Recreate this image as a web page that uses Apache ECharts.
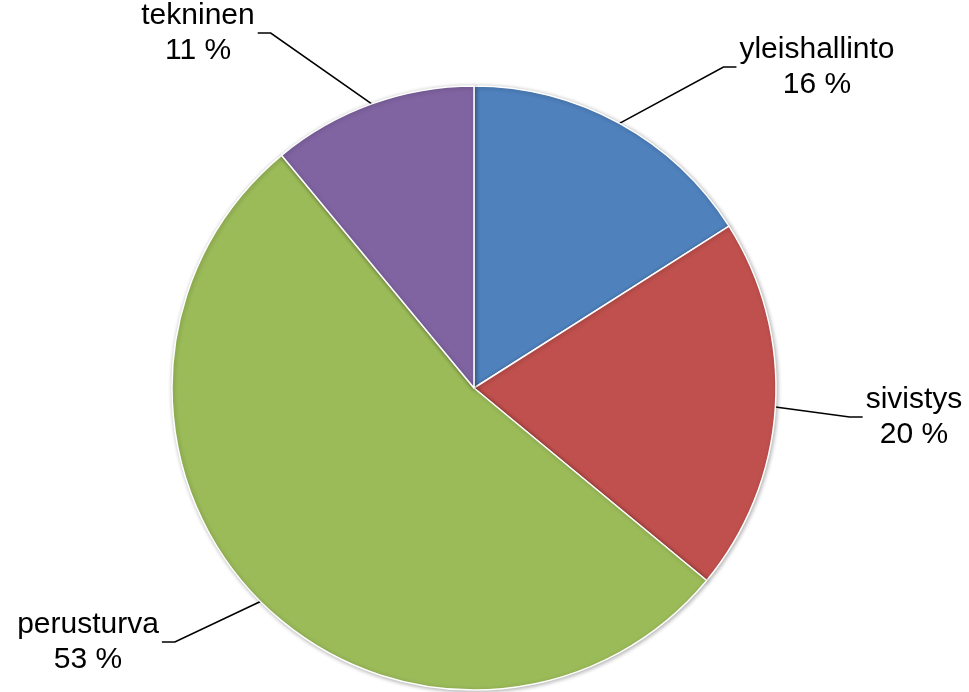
<!DOCTYPE html>
<html>
<head>
<meta charset="utf-8">
<title>Pie</title>
<script src="https://cdn.jsdelivr.net/npm/echarts@6/dist/echarts.min.js"></script>
<style>
  html, body { margin: 0; padding: 0; background: #fff; }
  #chart { width: 969px; height: 692px; }
</style>
</head>
<body>
<div id="chart"></div>
<script>
const names = ['yleishallinto', 'sivistys', 'perusturva', 'tekninen']
const values = [16, 20, 53, 11]
const colors = ['#4F81BD', '#C0504D', '#9BBB59', '#8064A2']
// where each two-line label sits (x = text centre, y = leader attach height)
const labelPos = [[817, 67], [914, 417], [88, 642], [198, 33]]

const chart = echarts.init(document.getElementById('chart'))

chart.setOption({
  animation: false,
  backgroundColor: '#fff',
  series: [{
    type: 'pie',
    center: [474, 388],
    radius: 302,
    startAngle: 90,
    clockwise: true,
    data: names.map((n, i) => ({
      name: n,
      value: values[i],
      itemStyle: { color: colors[i] }
    })),
    itemStyle: {
      borderColor: '#fff',
      borderWidth: 1.5,
      shadowBlur: 4,
      shadowOffsetX: 1,
      shadowOffsetY: 1,
      shadowColor: 'rgba(0,0,0,0.3)'
    },
    label: {
      show: true,
      position: 'outside',
      formatter: p => p.name + '\n' + Math.round(p.percent) + ' %',
      color: '#000',
      fontFamily: 'Liberation Sans, Arial, sans-serif',
      fontSize: 30,
      lineHeight: 35,
      padding: [15, 3, 0, 3]
    },
    labelLine: {
      show: true,
      length: 20,
      length2: 13,
      minTurnAngle: 0,
      lineStyle: { color: '#000', width: 1.6 }
    },
    labelLayout: params => {
      const p = labelPos[params.dataIndex]
      return { x: p[0], y: p[1], align: 'center', verticalAlign: 'middle', hideOverlap: false }
    },
    emphasis: { disabled: true }
  }]
})
</script>
</body>
</html>
